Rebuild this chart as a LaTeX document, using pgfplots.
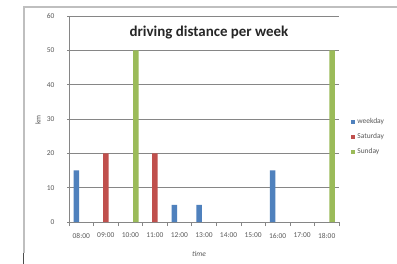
\documentclass[border=0pt]{standalone}
\usepackage{pgfplots}
\pgfplotsset{compat=1.18}
\usepackage{fontspec}
\setmainfont{Carlito}
\definecolor{cblue}{HTML}{4F81BD}
\definecolor{cred}{HTML}{C0504D}
\definecolor{cgreen}{HTML}{9BBB59}
\definecolor{cgrid}{HTML}{868686}
\begin{document}
\begin{tikzpicture}
\useasboundingbox (0,0) rectangle (397bp,264bp);
\fill[white] (0,0) rectangle (397bp,264bp);
\draw[black!25, line width=1.3bp] (24bp,11bp) -- (24bp,257bp) -- (397bp,257bp);
\draw[black!70, line width=0.5bp] (23bp,0bp) -- (23bp,11bp);
\begin{axis}[
  at={(69bp,42bp)}, anchor=south west, scale only axis,
  width=270bp, height=206bp,
  xmin=-0.5, xmax=10.5, ymin=0, ymax=60,
  ybar, bar width=5.5bp,
  axis x line*=bottom, axis y line*=left,
  axis line style={cgrid, line width=0.8bp, -},
  ytick={0,10,...,60},
  xtick={0,...,10},
  xticklabels={08:00,09:00,10:00,11:00,12:00,13:00,14:00,15:00,16:00,17:00,18:00},
  minor xtick={-0.5,0.5,...,10.5},
  major x tick style={draw=none},
  minor x tick style={cgrid, line width=0.6bp},
  major y tick style={cgrid, line width=0.6bp},
  tick align=outside,
  major tick length=2bp, minor tick length=4bp,
  ymajorgrids, grid style={cgrid, line width=0.8bp},
  tick label style={font=\fontsize{7.5}{8}\selectfont, text=black!65},
  xticklabel style={yshift=-5.5bp},
  yticklabel style={xshift=-9bp},
  /pgf/number format/assume math mode=true,
  clip=false,
  legend style={at={(1.045,0.413)}, anchor=west, draw=none, fill=none,
    font=\fontsize{7.5}{8}\selectfont, text=black!65, row sep=4.5bp, inner sep=0pt},
  legend cell align=left,
  legend image code/.code={\fill[#1] (0bp,-2bp) rectangle (4bp,2bp);},
]
\addplot[fill=cblue, draw=none, bar shift=-5bp] coordinates {(0,15) (4,5) (5,5) (8,15)};
\addlegendentry{weekday}
\addplot[fill=cred, draw=none, bar shift=0bp] coordinates {(1,20) (3,20)};
\addlegendentry{Saturday}
\addplot[fill=cgreen, draw=none, bar shift=5.5bp] coordinates {(2,50) (10,50)};
\addlegendentry{Sunday}
\end{axis}
\node[font=\bfseries\fontsize{15}{17}\selectfont, text=black!85] at (209bp,231bp) {driving distance per week};
\node[rotate=90, font=\fontsize{7.5}{8}\selectfont, text=black!65] at (38bp,144bp) {km};
\node[font=\itshape\fontsize{7.5}{8}\selectfont, text=black!65] at (199bp,10bp) {time};
\end{tikzpicture}
\end{document}
